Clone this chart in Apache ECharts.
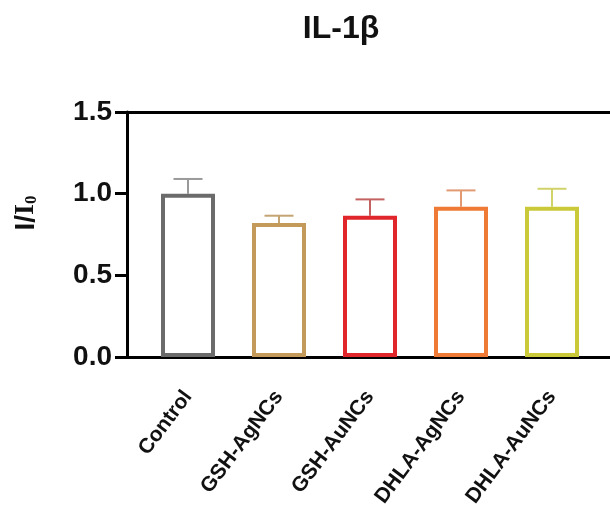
<!DOCTYPE html>
<html>
<head>
<meta charset="utf-8">
<script src="https://cdn.jsdelivr.net/npm/echarts@6/dist/echarts.min.js"></script>
<style>
  html, body { margin: 0; padding: 0; background: #fff; }
  #main { width: 610px; height: 525px; }
</style>
</head>
<body>
<div id="main"></div>
<script>
var categories = ['Control', 'GSH-AgNCs', 'GSH-AuNCs', 'DHLA-AgNCs', 'DHLA-AuNCs'];
var means = [1.00, 0.82, 0.865, 0.92, 0.92];
var errors = [0.09, 0.045, 0.10, 0.10, 0.11];
var barColors = ['#6b6b6b', '#c49a5a', '#e0262a', '#ee7a35', '#c9c93a'];
var errColors = ['#9a9a9a', '#c4a472', '#c46262', '#e29a72', '#d2d26a'];
var yMin = 0, yMax = 1.5, yStep = 0.5;

var font = 'Arial, "Liberation Sans", sans-serif';
var chart = echarts.init(document.getElementById('main'));

var barData = means.map(function (v, i) {
  return {
    value: v,
    itemStyle: { color: '#fff', borderColor: barColors[i], borderWidth: 4 }
  };
});
var errData = means.map(function (v, i) { return [i, v, errors[i]]; });

var option = {
  backgroundColor: '#fff',
  animation: false,
  graphic: [
    {
      type: 'text', x: 341, y: 29,
      style: { text: 'IL-1β', fontFamily: font, fontWeight: 'bold', fontSize: 32,
               fill: '#111', textAlign: 'center', textVerticalAlign: 'middle' }
    },
    {
      type: 'text', x: 26, y: 213, rotation: Math.PI / 2,
      style: {
        text: '{a|I/}{b|I}{c|0}',
        textAlign: 'center', textVerticalAlign: 'middle',
        rich: {
          a: { fontFamily: font, fontWeight: 'bold', fontSize: 28, fill: '#111' },
          b: { fontFamily: '"Liberation Serif", "Times New Roman", serif', fontWeight: 'bold', fontSize: 28, fill: '#111' },
          c: { fontFamily: '"Liberation Serif", serif', fontWeight: 'bold', fontSize: 17, fill: '#111', padding: [11, 0, 0, 0] }
        }
      }
    }
  ],
  grid: [
    { left: 127, right: 0, top: 112, bottom: 168 },
    { left: 142.5, right: 12.5, top: 112, bottom: 168 }
  ],
  xAxis: [
    { gridIndex: 0, type: 'value', position: 'bottom', min: 0, max: 1,
      axisLine: { lineStyle: { color: '#000', width: 3 } },
      axisTick: { show: false }, axisLabel: { show: false }, splitLine: { show: false } },
    { gridIndex: 0, type: 'value', position: 'top', min: 0, max: 1,
      axisLine: { lineStyle: { color: '#000', width: 3 } },
      axisTick: { show: false }, axisLabel: { show: false }, splitLine: { show: false } },
    { gridIndex: 1, type: 'category', data: categories,
      axisLine: { show: false },
      axisTick: { alignWithLabel: true, length: 11, lineStyle: { color: '#000', width: 3 } },
      axisLabel: { rotate: 53, margin: 36, color: '#111', fontFamily: font,
                   fontWeight: 'bold', fontSize: 21 } }
  ],
  yAxis: [
    { gridIndex: 0, type: 'value', min: yMin, max: yMax, interval: yStep,
      axisLine: { show: true, lineStyle: { color: '#000', width: 3 } },
      axisTick: { show: true, length: 12, lineStyle: { color: '#000', width: 3 } },
      axisLabel: { margin: 15, color: '#111', fontFamily: font, fontWeight: 'bold', fontSize: 28,
                   formatter: function (v) { return v.toFixed(1); } },
      splitLine: { show: false } },
    { gridIndex: 1, type: 'value', min: yMin, max: yMax, interval: yStep, show: false }
  ],
  series: [
    {
      type: 'custom', xAxisIndex: 2, yAxisIndex: 1, z: 1,
      data: errData,
      renderItem: function (params, api) {
        var i = api.value(0);
        var top = api.coord([i, api.value(1) + api.value(2)]);
        var base = api.coord([i, api.value(1)]);
        var half = 14.5;
        var st = { stroke: errColors[params.dataIndex], lineWidth: 2 };
        return {
          type: 'group',
          children: [
            { type: 'line', shape: { x1: base[0], y1: base[1], x2: top[0], y2: top[1] }, style: st },
            { type: 'line', shape: { x1: top[0] - half, y1: top[1], x2: top[0] + half, y2: top[1] }, style: st }
          ]
        };
      }
    },
    {
      type: 'bar', xAxisIndex: 2, yAxisIndex: 1, z: 2,
      barWidth: 54,
      data: barData
    }
  ]
};
chart.setOption(option);
</script>
</body>
</html>
